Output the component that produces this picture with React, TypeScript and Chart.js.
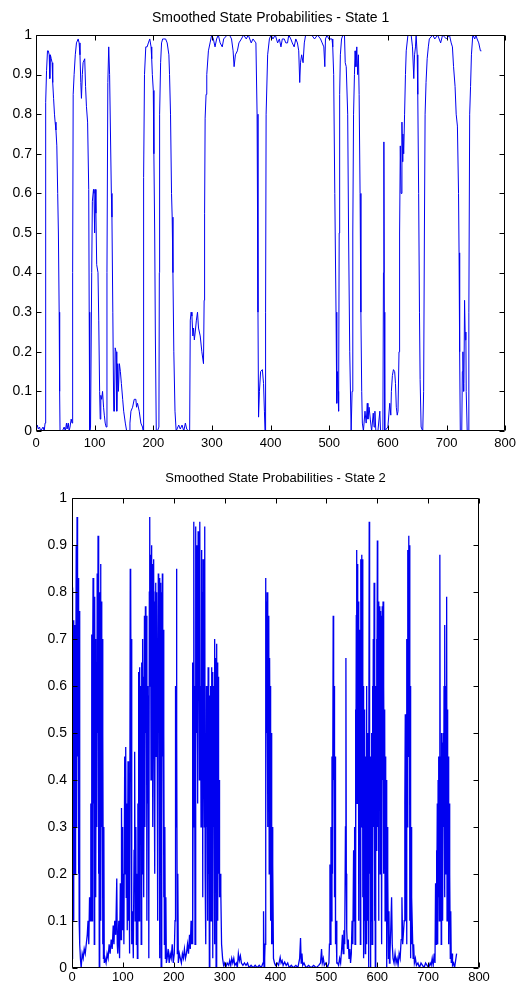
import React, { useEffect, useRef } from 'react';
import { Chart, registerables } from 'chart.js';

Chart.register(...registerables);

// ---------- tick labels ----------
const xTickLabels = ['0', '100', '200', '300', '400', '500', '600', '700', '800'];
const yTickLabels = ['0', '0.1', '0.2', '0.3', '0.4', '0.5', '0.6', '0.7', '0.8', '0.9', '1'];

const title1 = 'Smoothed State Probabilities - State 1';
const title2 = 'Smoothed State Probabilities - State 2';

// ---------- State 1: observation index and smoothed probability ----------
const state1Time = [
  0, 2, 4, 6, 8, 10, 12, 14, 15.5, 16.2,
  16.8, 18, 19.6, 21, 22.5, 23.5, 24.5, 26, 27.5, 28.5,
  30, 31.5, 32.6, 34, 35.5, 37, 38.2, 39.5, 40.3, 41,
  45, 48, 50, 52, 53, 55, 56.5, 58, 60, 61.5,
  62.5, 63.4, 65, 67, 69, 71.9, 73.5, 75, 76.4, 77.5,
  79, 80.3, 83.1, 84.5, 86, 88, 89.9, 90.7, 91.6, 93,
  95, 96.1, 98, 98.9, 100, 101, 102.2, 103.5, 105.7, 107,
  108.5, 109.5, 110.5, 112, 113.5, 115.2, 116.5, 118, 119.7, 121,
  122.5, 124, 125.5, 127, 128.5, 129.5, 131, 132.5, 133.8, 135,
  136.5, 137.7, 139.4, 140.5, 142.2, 143.9, 145.6, 147.8, 149.5, 152.3,
  154.6, 159.1, 160.2, 161.9, 164.7, 167.5, 170.3, 171.5, 173.1, 176,
  178.8, 181.6, 182.8, 183.5, 185, 187.2, 189.5, 191.6, 194, 196.2,
  197.3, 198.4, 200, 201, 202.4, 203.5, 205.1, 207, 209.6, 210.3,
  210.8, 212.5, 214.1, 216, 218.1, 221, 223.7, 226.6, 227.7, 229.4,
  231.1, 232.2, 233.5, 235, 237, 239, 243.4, 246, 249, 252,
  254.7, 257, 260.3, 262, 263.1, 264.5, 265.9, 267.5, 268.7, 270,
  271.5, 273.5, 275.4, 277.1, 280, 282.8, 285.6, 286.7, 287.5, 288.4,
  290, 291.2, 294, 296.8, 299.6, 302.4, 305.3, 308, 310.9, 314,
  317.6, 320, 326, 330, 333.4, 336.1, 337.8, 340, 343.4, 346,
  350.2, 354, 358.6, 362, 367, 370, 375, 377, 378.5, 379.5,
  381, 383, 386, 388, 389.5, 390.5, 391.5, 392.4, 395, 398,
  400.8, 404, 408, 412, 415, 417.7, 420, 423.3, 426, 428.9,
  431, 434.5, 437, 440.2, 443, 445.8, 448, 449.7, 451, 453,
  455.4, 457.5, 459.8, 465, 470, 475, 480, 485.2, 488, 490.8,
  492.5, 493.6, 496.4, 499.2, 504.8, 506, 507.6, 509.5, 511.6, 512.5,
  513.2, 514, 515, 516, 517, 517.8, 519, 521, 523.4, 526,
  527.3, 529, 530.1, 531.5, 533, 535, 537.4, 539, 540.2, 541.5,
  543, 544.1, 545.5, 547, 548.5, 549.8, 551, 552.6, 554, 555.4,
  556.5, 558.3, 561, 563, 564.9, 566, 568, 570, 572.3, 575.1,
  576.5, 577.9, 579.5, 583, 586.3, 587.5, 591.5, 592.5, 593.2, 594,
  594.7, 600, 603.2, 605, 606, 607.7, 609.5, 611.6, 613, 614.4,
  616, 617.3, 619, 620, 621.2, 622.5, 624, 625, 625.7, 627,
  628.5, 630, 631.3, 634.2, 639.7, 642, 644.2, 645.5, 647.1, 648.2,
  650, 651, 652.5, 653.9, 655, 656.7, 659.5, 661, 662.3, 663.5,
  665.1, 667, 669, 670.7, 676.4, 680, 685, 690, 693.3, 700,
  705, 708, 710.1, 712, 714.6, 716.5, 718.6, 720.5, 721.4, 722.4,
  723.5, 726, 727, 728, 729, 729.7, 730.8, 732, 733, 733.6,
  735.3, 737, 738.1, 739.5, 741, 742.5, 744.8, 748.2, 750, 752.2,
  755, 757.8, 759.5,
];
const state1Prob = [
  0.01, 0.015, 0.005, 0.01, 0, 0.005, 0.01, 0, 0.02, 0.38,
  0.83, 0.91, 0.96, 0.96, 0.95, 0.89, 0.95, 0.94, 0.93, 0.88,
  0.84, 0.8, 0.78, 0.76, 0.72, 0.6, 0.5, 0.3, 0.1, 0,
  0, 0.01, 0, 0.02, 0.005, 0.02, 0, 0.01, 0.03, 0.02,
  0.4, 0.85, 0.9, 0.95, 0.98, 0.99, 0.98, 0.95, 0.88, 0.84,
  0.9, 0.93, 0.94, 0.87, 0.82, 0.78, 0.61, 0.3, 0, 0.01,
  0.4, 0.58, 0.61, 0.6, 0.5, 0.61, 0.55, 0.42, 0.4, 0.28,
  0.1, 0.03, 0.09, 0.08, 0.1, 0.06, 0.04, 0.02, 0.01, 0.4,
  0.88, 0.97, 0.9, 0.75, 0.6, 0.54, 0.3, 0.05, 0.05, 0.21,
  0.2, 0.05, 0.17, 0.1, 0.17, 0.15, 0.12, 0.08, 0.05, 0.02,
  0, 0, 0.02, 0.05, 0.06, 0.08, 0.08, 0.06, 0.07, 0.05,
  0.02, 0.01, 0, 0.64, 0.9, 0.97, 0.97, 0.98, 0.99, 0.97,
  0.94, 0.9, 0.86, 0.7, 0.5, 0.25, 0, 0, 0.01, 0.4,
  0.8, 0.93, 0.98, 0.99, 0.99, 0.99, 0.98, 0.95, 0.9, 0.8,
  0.6, 0.54, 0.4, 0.2, 0.05, 0, 0.015, 0.005, 0.015, 0,
  0.02, 0.005, 0, 0, 0.28, 0.3, 0.29, 0.24, 0.26, 0.23,
  0.25, 0.28, 0.3, 0.26, 0.24, 0.2, 0.17, 0.33, 0.55, 0.79,
  0.85, 0.9, 0.96, 0.98, 1, 0.99, 0.97, 0.99, 1, 0.98,
  0.97, 0.99, 1, 1, 0.99, 0.96, 0.92, 0.95, 0.96, 0.98,
  0.99, 1, 0.99, 1, 0.98, 0.99, 0.98, 0.8, 0.3, 0.035,
  0.1, 0.15, 0.155, 0.12, 0.05, 0, 0.3, 0.8, 0.95, 0.99,
  1, 0.99, 1, 0.98, 0.99, 0.97, 0.99, 0.99, 0.98, 0.98,
  1, 0.99, 0.98, 0.97, 0.99, 0.98, 0.96, 0.88, 0.93, 0.95,
  0.93, 0.98, 1, 1, 1, 0.99, 1, 0.99, 0.98, 0.97,
  0.92, 0.99, 1, 0.99, 0.99, 0.97, 0.9, 0.6, 0.3, 0.12,
  0.07, 0.15, 0.1, 0.05, 0.5, 0.85, 0.95, 0.99, 1, 1,
  0.93, 0.92, 0.92, 0.8, 0.5, 0.2, 0, 0.1, 0.5, 0.8,
  0.9, 0.96, 0.92, 0.97, 0.9, 0.95, 0.85, 0.6, 0.3, 0.1,
  0.02, 0, 0.05, 0.02, 0.07, 0.03, 0.06, 0.03, 0, 0.045,
  0.01, 0.05, 0, 0, 0.05, 0, 0, 0.4, 0.73, 0.3,
  0, 0.01, 0.07, 0.04, 0.1, 0.14, 0.155, 0.15, 0.12, 0.06,
  0.04, 0.05, 0.2, 0.5, 0.72, 0.6, 0.78, 0.68, 0.75, 0.7,
  0.8, 0.9, 0.96, 1, 1, 0.97, 0.89, 0.95, 0.97, 1,
  0.95, 0.85, 0.6, 0.3, 0.13, 0.01, 0, 0.1, 0.5, 0.8,
  0.88, 0.94, 0.97, 0.99, 1, 0.99, 1, 0.98, 1, 0.99,
  1, 0.98, 0.97, 0.92, 0.87, 0.8, 0.77, 0.6, 0.45, 0.2,
  0, 0, 0.15, 0.2, 0.1, 0.12, 0.33, 0.23, 0.25, 0.1,
  0, 0, 0.3, 0.8, 0.87, 0.95, 1, 0.99, 1, 0.99,
  0.98, 0.96, 0.96,
];

// ---------- State 2: observation index and smoothed probability ----------
const state2Time = [
  0, 0.7, 1.5, 2.3, 3, 3.8, 4.6, 5.3, 6, 6.8,
  7.5, 8.3, 9, 9.9, 10.6, 11.3, 12, 12.7, 13.4, 14.1,
  14.8, 15.5, 16.5, 18, 20, 22, 24, 26, 28, 30,
  31.5, 33, 34.5, 36, 37, 38, 38.8, 39.6, 40.4, 41.4,
  42.2, 43, 43.8, 44.6, 45.4, 46.2, 47, 47.9, 48.7, 49.5,
  50.3, 51.2, 52, 52.8, 53.6, 54.5, 55.3, 56.1, 56.9, 57.7,
  58.5, 59.3, 60.1, 60.9, 61.8, 62.6, 63.4, 65, 67, 69,
  71, 73, 75, 77, 79, 81, 82.5, 84, 86, 88,
  89, 90, 92, 93.5, 95, 96.5, 97.3, 98.3, 99, 100,
  101, 102, 103.6, 104.6, 105.6, 106.6, 107.6, 108.6, 110.1, 111.2,
  112.2, 113.2, 114.5, 115.3, 116.2, 117, 117.8, 119, 120.5, 122,
  123.2, 124.2, 125.5, 126.5, 127.5, 128.5, 129.5, 130.5, 131, 132,
  133, 134, 135, 136, 137, 138, 138.8, 139.6, 140.5, 141.4,
  142.4, 143.3, 144.3, 145.3, 146.3, 147.2, 148.1, 149, 150, 151,
  152, 152.8, 153.6, 154.5, 155.3, 156.1, 157, 157.8, 158.7, 159.6,
  160.5, 161.3, 162.2, 163, 163.8, 164.6, 165.5, 166.4, 167.2, 168,
  168.8, 169.6, 170.4, 171.2, 172, 172.8, 173.6, 174.4, 175.2, 176,
  176.8, 177.6, 178.4, 179.2, 180, 180.8, 181.6, 182.5, 183.5, 184.5,
  185.5, 187, 189, 191, 193, 195, 197, 199, 201, 202.5,
  203.5, 204.5, 205.3, 206.2, 207, 208, 209, 211, 213, 215,
  217, 219, 221, 223, 225, 227, 229, 231, 232.5, 234,
  235, 236, 236.8, 237.6, 238.5, 239.4, 240.2, 241, 241.8, 242.7,
  243.6, 244.5, 245.3, 246.1, 247, 247.9, 248.7, 249.5, 250.4, 251.2,
  252, 252.8, 253.6, 254.5, 255.3, 256.1, 257, 257.7, 258.5, 259.3,
  260.1, 260.9, 261.7, 262.5, 263.3, 264.2, 265, 265.8, 266.7, 267.6,
  268.4, 269.2, 270, 270.9, 271.7, 272.5, 273.3, 274.2, 275, 275.8,
  276.7, 277.5, 278.3, 279.2, 280, 280.8, 281.6, 282.4, 283.2, 284,
  284.8, 285.6, 286.4, 287.3, 288.1, 289, 290, 291, 292.5, 294,
  296, 298, 300, 302, 305, 308, 310, 312, 314, 316,
  318, 320, 323, 325, 327, 329, 331, 333, 336, 339,
  342, 345, 348, 352, 356, 360, 364, 368, 372, 375.5,
  376.5, 377.5, 378.7, 379.5, 380.4, 381.2, 382, 382.8, 383.6, 384.4,
  385.2, 386, 386.8, 387.6, 388.4, 389.2, 390, 390.8, 391.6, 392.5,
  393.3, 394.1, 395, 396, 398, 400, 403, 406, 409.2, 411,
  413, 415, 418, 421, 424, 427, 431, 435, 440, 444,
  447.5, 449.2, 450.5, 452, 453.5, 456, 460, 465, 470, 475,
  480, 485, 488.5, 490.5, 492, 494, 496, 499, 502, 505,
  506, 507, 508, 509, 510, 511, 512, 513.4, 514.3, 515.2,
  516, 517, 518, 519, 520.5, 522, 524, 526, 528, 530,
  531.5, 533, 534.5, 536, 537.5, 538.4, 539.2, 540, 541.5, 543,
  544.5, 546, 547.5, 549, 550.5, 552, 553.5, 554.5, 555.5, 556.3,
  557.1, 558, 558.8, 559.6, 560.4, 561.2, 562, 562.8, 563.6, 564.4,
  565.2, 566, 566.8, 567.6, 568.4, 569.2, 570, 570.8, 571.6, 572.4,
  573.2, 574, 574.8, 575.6, 576.4, 577.2, 578, 578.8, 579.6, 580.4,
  581.2, 582, 582.8, 583.6, 584.2, 585, 585.8, 586.6, 587.4, 588.2,
  589, 589.8, 590.6, 591.4, 592.2, 593, 593.8, 594.6, 595.4, 596.2,
  597, 597.8, 598.6, 599.4, 600.2, 601, 601.8, 602.6, 603.4, 604.2,
  605, 605.8, 606.6, 607.4, 608.2, 609, 609.8, 610.6, 611.4, 612.2,
  613, 613.8, 614.6, 615.4, 616.2, 617, 617.8, 618.6, 619.4, 620.2,
  621, 622, 623, 624, 625, 626.5, 628.2, 629.5, 631, 633,
  635, 637, 639, 641, 643, 645, 647, 648.5, 650, 653,
  654.2, 655.1, 656, 656.8, 657.6, 658.4, 659.2, 660, 660.8, 661.6,
  662.4, 663.2, 664, 664.8, 665.6, 666.4, 667.2, 668, 669.5, 670.5,
  671.5, 673, 675, 677, 680, 683, 686, 689, 692, 695,
  698, 701, 704, 706, 708, 710, 712, 713.5, 714.6, 715.5,
  716.4, 717.2, 718, 718.8, 719.6, 720.4, 721.2, 722, 722.8, 723.3,
  724.1, 724.9, 725.7, 726.5, 727.3, 728.1, 728.9, 729.7, 730.5, 731.3,
  732.1, 733.1, 733.9, 734.7, 735.5, 736.4, 737.2, 738, 738.8, 739.6,
  740.4, 741.2, 742, 742.8, 743.6, 744.5, 745.5, 747, 748, 750,
  752, 754, 756,
];
const state2Prob = [
  0.02, 0.81, 0.3, 0.7, 0.1, 0.74, 0.4, 0.73, 0.2, 0.7,
  0.5, 0.9, 0.3, 0.96, 0.9, 0.45, 0.83, 0.2, 0.77, 0.1,
  0.76, 0.05, 0.02, 0, 0.03, 0.02, 0.04, 0.03, 0.05, 0.07,
  0.1, 0.05, 0.15, 0.1, 0.35, 0.2, 0.71, 0.1, 0.6, 0.83,
  0.35, 0.7, 0.05, 0.79, 0.4, 0.7, 0.15, 0.65, 0.3, 0.84,
  0.5, 0.92, 0.2, 0.75, 0, 0.8, 0.35, 0.86, 0.1, 0.78,
  0.3, 0.7, 0.05, 0.5, 0.02, 0.3, 0.01, 0.02, 0.01, 0.03,
  0.02, 0.05, 0.03, 0.06, 0.04, 0.09, 0.05, 0.1, 0.07, 0.19,
  0.05, 0.03, 0.1, 0.02, 0.18, 0.06, 0.34, 0.12, 0.3, 0.08,
  0.2, 0.05, 0.45, 0.2, 0.47, 0.15, 0.35, 0.08, 0.44, 0.1,
  0.2, 0.03, 0.85, 0.84, 0.45, 0.7, 0.05, 0.12, 0.02, 0.25,
  0.46, 0.1, 0.3, 0.05, 0.2, 0.02, 0.35, 0.1, 0.63, 0.1,
  0.64, 0.3, 0.6, 0.05, 0.65, 0.2, 0.7, 0.4, 0.62, 0.15,
  0.75, 0.3, 0.77, 0.5, 0.75, 0.1, 0.6, 0.35, 0.58, 0.02,
  0.8, 0.96, 0.6, 0.88, 0.4, 0.9, 0.55, 0.86, 0.3, 0.8,
  0.87, 0.5, 0.78, 0.2, 0.8, 0.82, 0.45, 0.8, 0.6, 0.7,
  0.1, 0.84, 0.5, 0.8, 0.02, 0.83, 0.4, 0.82, 0, 0.8,
  0.3, 0.84, 0.45, 0.72, 0.15, 0.5, 0.05, 0.3, 0.02, 0.15,
  0.01, 0.02, 0.04, 0.01, 0.03, 0.02, 0.05, 0.01, 0.03, 0.1,
  0.6, 0.3, 0.85, 0.5, 0.03, 0.2, 0.01, 0.03, 0.02, 0.01,
  0.03, 0.02, 0.04, 0.02, 0.03, 0.05, 0.03, 0.07, 0.04, 0.1,
  0.05, 0.1, 0.65, 0.05, 0.5, 0.95, 0.3, 0.6, 0.05, 0.94,
  0.45, 0.9, 0.5, 0.85, 0.35, 0.93, 0.6, 0.87, 0.4, 0.95,
  0.55, 0.6, 0.3, 0.89, 0.5, 0.8, 0.15, 0.87, 0.45, 0.55,
  0.3, 0.94, 0.2, 0.5, 0.05, 0.6, 0.3, 0.58, 0.1, 0.64,
  0.2, 0.55, 0, 0.58, 0.25, 0.6, 0.1, 0.64, 0.35, 0.63,
  0.02, 0.6, 0.3, 0.55, 0.05, 0.7, 0.4, 0.66, 0, 0.69,
  0.3, 0.65, 0.1, 0.62, 0.2, 0.4, 0.15, 0.2, 0.16, 0.05,
  0.02, 0.005, 0.01, 0, 0.01, 0.005, 0.015, 0.005, 0.02, 0.01,
  0.02, 0.005, 0.01, 0, 0.03, 0.015, 0.025, 0.01, 0.005, 0.01,
  0.005, 0.01, 0, 0.005, 0, 0.005, 0, 0.005, 0, 0.01,
  0.12, 0, 0.02, 0.05, 0.83, 0.3, 0.78, 0.5, 0.8, 0.3,
  0.73, 0.6, 0.75, 0.2, 0.66, 0.45, 0.6, 0.1, 0.5, 0.05,
  0.3, 0.05, 0.22, 0.02, 0.01, 0.005, 0.01, 0.005, 0.022, 0.01,
  0.015, 0.005, 0.012, 0.005, 0.01, 0, 0.005, 0, 0.005, 0,
  0.02, 0.063, 0.01, 0.03, 0.005, 0.01, 0, 0.005, 0, 0.005,
  0, 0.005, 0.01, 0.04, 0.01, 0.02, 0.005, 0.01, 0, 0.01,
  0.05, 0.22, 0.05, 0.3, 0.1, 0.45, 0.2, 0.75, 0.4, 0.6,
  0.15, 0.45, 0.05, 0.1, 0.01, 0.01, 0.005, 0.02, 0.01, 0.04,
  0.07, 0.03, 0.08, 0.05, 0.3, 0.66, 0.2, 0.08, 0.04, 0.06,
  0.02, 0.04, 0.01, 0.03, 0.1, 0.05, 0.25, 0.1, 0.3, 0.05,
  0.55, 0.2, 0.75, 0.89, 0.35, 0.86, 0.5, 0.78, 0.1, 0.7,
  0.4, 0.72, 0.05, 0.87, 0.3, 0.88, 0.45, 0.87, 0.15, 0.6,
  0.02, 0.5, 0.1, 0.55, 0.03, 0.45, 0.2, 0.6, 0.05, 0.5,
  0.1, 0.45, 0, 0.3, 0.95, 0.2, 0.4, 0, 0.45, 0.1,
  0.5, 0.05, 0.6, 0.2, 0.7, 0.3, 0.82, 0.1, 0.55, 0,
  0.6, 0.25, 0.7, 0.4, 0.91, 0.3, 0.78, 0.1, 0.7, 0.45,
  0.77, 0.2, 0.76, 0.5, 0.75, 0.05, 0.77, 0.4, 0.78, 0.2,
  0.6, 0.35, 0.55, 0.1, 0.45, 0.2, 0.4, 0, 0.3, 0.1,
  0.2, 0.02, 0.12, 0.01, 0.03, 0.08, 0.15, 0.05, 0.02, 0.01,
  0.03, 0.01, 0.02, 0.005, 0.03, 0.02, 0.06, 0.15, 0.05, 0.1,
  0.35, 0.54, 0.1, 0.4, 0.05, 0.7, 0.3, 0.89, 0.45, 0.92,
  0.5, 0.9, 0.1, 0.6, 0.02, 0.3, 0.05, 0.15, 0.06, 0.02,
  0.05, 0.01, 0.02, 0.005, 0.01, 0, 0.01, 0.005, 0, 0.01,
  0.005, 0, 0.01, 0.005, 0.02, 0.005, 0.03, 0.01, 0.18, 0.05,
  0.25, 0.1, 0.35, 0.05, 0.4, 0.15, 0.45, 0.1, 0.6, 0.88,
  0.2, 0.45, 0.05, 0.5, 0.2, 0.48, 0.1, 0.5, 0.3, 0.6,
  0.15, 0.73, 0.2, 0.6, 0.4, 0.79, 0.1, 0.55, 0.25, 0.45,
  0.05, 0.35, 0.1, 0.2, 0.02, 0.12, 0.01, 0.03, 0.005, 0.01,
  0, 0.015, 0.03,
];

const FONT = "'Liberation Sans', Arial, Helvetica, sans-serif";

// Draws the closed axes box with inward tick marks on all four sides.
const axesBoxPlugin = {
  id: 'axesBox',
  afterDraw(chart: any) {
    const { ctx, chartArea: a } = chart;
    const sx = chart.scales.x;
    const sy = chart.scales.y;
    const L = 5;
    const left = Math.round(a.left) + 0.5;
    const right = Math.round(a.right) - 0.5;
    const top = Math.round(a.top) + 0.5;
    const bottom = Math.round(a.bottom) - 0.5;
    ctx.save();
    ctx.strokeStyle = '#000';
    ctx.lineWidth = 1;
    ctx.beginPath();
    ctx.rect(left, top, right - left, bottom - top);
    sx.ticks.forEach((t: any) => {
      const px = Math.round(sx.getPixelForValue(t.value)) + 0.5;
      ctx.moveTo(px, bottom);
      ctx.lineTo(px, bottom - L);
      ctx.moveTo(px, top);
      ctx.lineTo(px, top + L);
    });
    sy.ticks.forEach((t: any) => {
      const py = Math.round(sy.getPixelForValue(t.value)) + 0.5;
      ctx.moveTo(left, py);
      ctx.lineTo(left + L, py);
      ctx.moveTo(right, py);
      ctx.lineTo(right - L, py);
    });
    ctx.stroke();
    ctx.restore();
  },
};

type PanelProps = {
  times: number[];
  probs: number[];
  title: string;
  top: number;
  height: number;
  plotLeft: number;
  plotRight: number;
  plotTop: number;
  plotBottom: number;
  titleSize: number;
  titlePadTop: number;
  xFontSize: number;
  xPad: number;
  yFontSize: number;
  yPad: number;
  lineWidth: number;
};

function Panel(p: PanelProps) {
  const ref = useRef<HTMLCanvasElement | null>(null);

  useEffect(() => {
    const canvas = ref.current;
    if (!canvas) return;
    const n = Math.min(p.times.length, p.probs.length);
    const points = [];
    for (let i = 0; i < n; i++) points.push({ x: p.times[i], y: p.probs[i] });
    const titleLine = p.titleSize * 1.2;

    const chart = new Chart(canvas, {
      type: 'line',
      data: {
        datasets: [
          {
            data: points,
            borderColor: '#0000f0',
            borderWidth: p.lineWidth,
            pointRadius: 0,
            pointHoverRadius: 0,
            tension: 0,
            fill: false,
          },
        ],
      },
      options: {
        responsive: false,
        animation: false,
        devicePixelRatio: 1,
        events: [],
        layout: {
          padding: { left: 0, right: 521 - p.plotRight, top: 0, bottom: 0 },
        },
        plugins: {
          legend: { display: false },
          tooltip: { enabled: false },
          title: {
            display: true,
            text: p.title,
            color: '#000',
            fullSize: false,
            font: { family: FONT, size: p.titleSize, weight: 'normal' },
            padding: { top: p.titlePadTop, bottom: p.plotTop - p.titlePadTop - titleLine },
          },
        },
        scales: {
          x: {
            type: 'linear',
            min: 0,
            max: 800,
            grid: { display: false, drawTicks: false },
            border: { display: false },
            ticks: {
              stepSize: 100,
              autoSkip: false,
              maxRotation: 0,
              color: '#000',
              padding: p.xPad,
              font: { family: FONT, size: p.xFontSize },
              callback: (v: any) => xTickLabels[Math.round(Number(v) / 100)],
            },
            afterFit: (s: any) => {
              s.height = p.height - p.plotBottom;
            },
          },
          y: {
            type: 'linear',
            min: 0,
            max: 1,
            grid: { display: false, drawTicks: false },
            border: { display: false },
            ticks: {
              stepSize: 0.1,
              autoSkip: false,
              color: '#000',
              padding: p.yPad,
              font: { family: FONT, size: p.yFontSize },
              callback: (v: any) => yTickLabels[Math.round(Number(v) * 10)],
            },
            afterFit: (s: any) => {
              s.width = p.plotLeft;
            },
          },
        },
      },
      plugins: [axesBoxPlugin],
    } as any);

    return () => chart.destroy();
  }, []);

  return (
    <canvas
      ref={ref}
      width={521}
      height={p.height}
      style={{ position: 'absolute', left: 0, top: p.top, display: 'block' }}
    />
  );
}

export default function App() {
  return (
    <div
      style={{
        position: 'absolute',
        left: 0,
        top: 0,
        width: 521,
        height: 988,
        overflow: 'hidden',
        background: '#fff',
      }}
    >
      <Panel
        times={state1Time}
        probs={state1Prob}
        title={title1}
        top={0}
        height={460}
        plotLeft={36}
        plotRight={510}
        plotTop={35}
        plotBottom={431}
        titleSize={14}
        titlePadTop={10}
        xFontSize={13}
        xPad={5}
        yFontSize={14}
        yPad={4}
        lineWidth={1}
      />
      <Panel
        times={state2Time}
        probs={state2Prob}
        title={title2}
        top={460}
        height={528}
        plotLeft={72}
        plotRight={479}
        plotTop={38.3}
        plotBottom={507.7}
        titleSize={13}
        titlePadTop={11}
        xFontSize={13}
        xPad={2}
        yFontSize={14}
        yPad={5}
        lineWidth={1.3}
      />
    </div>
  );
}
